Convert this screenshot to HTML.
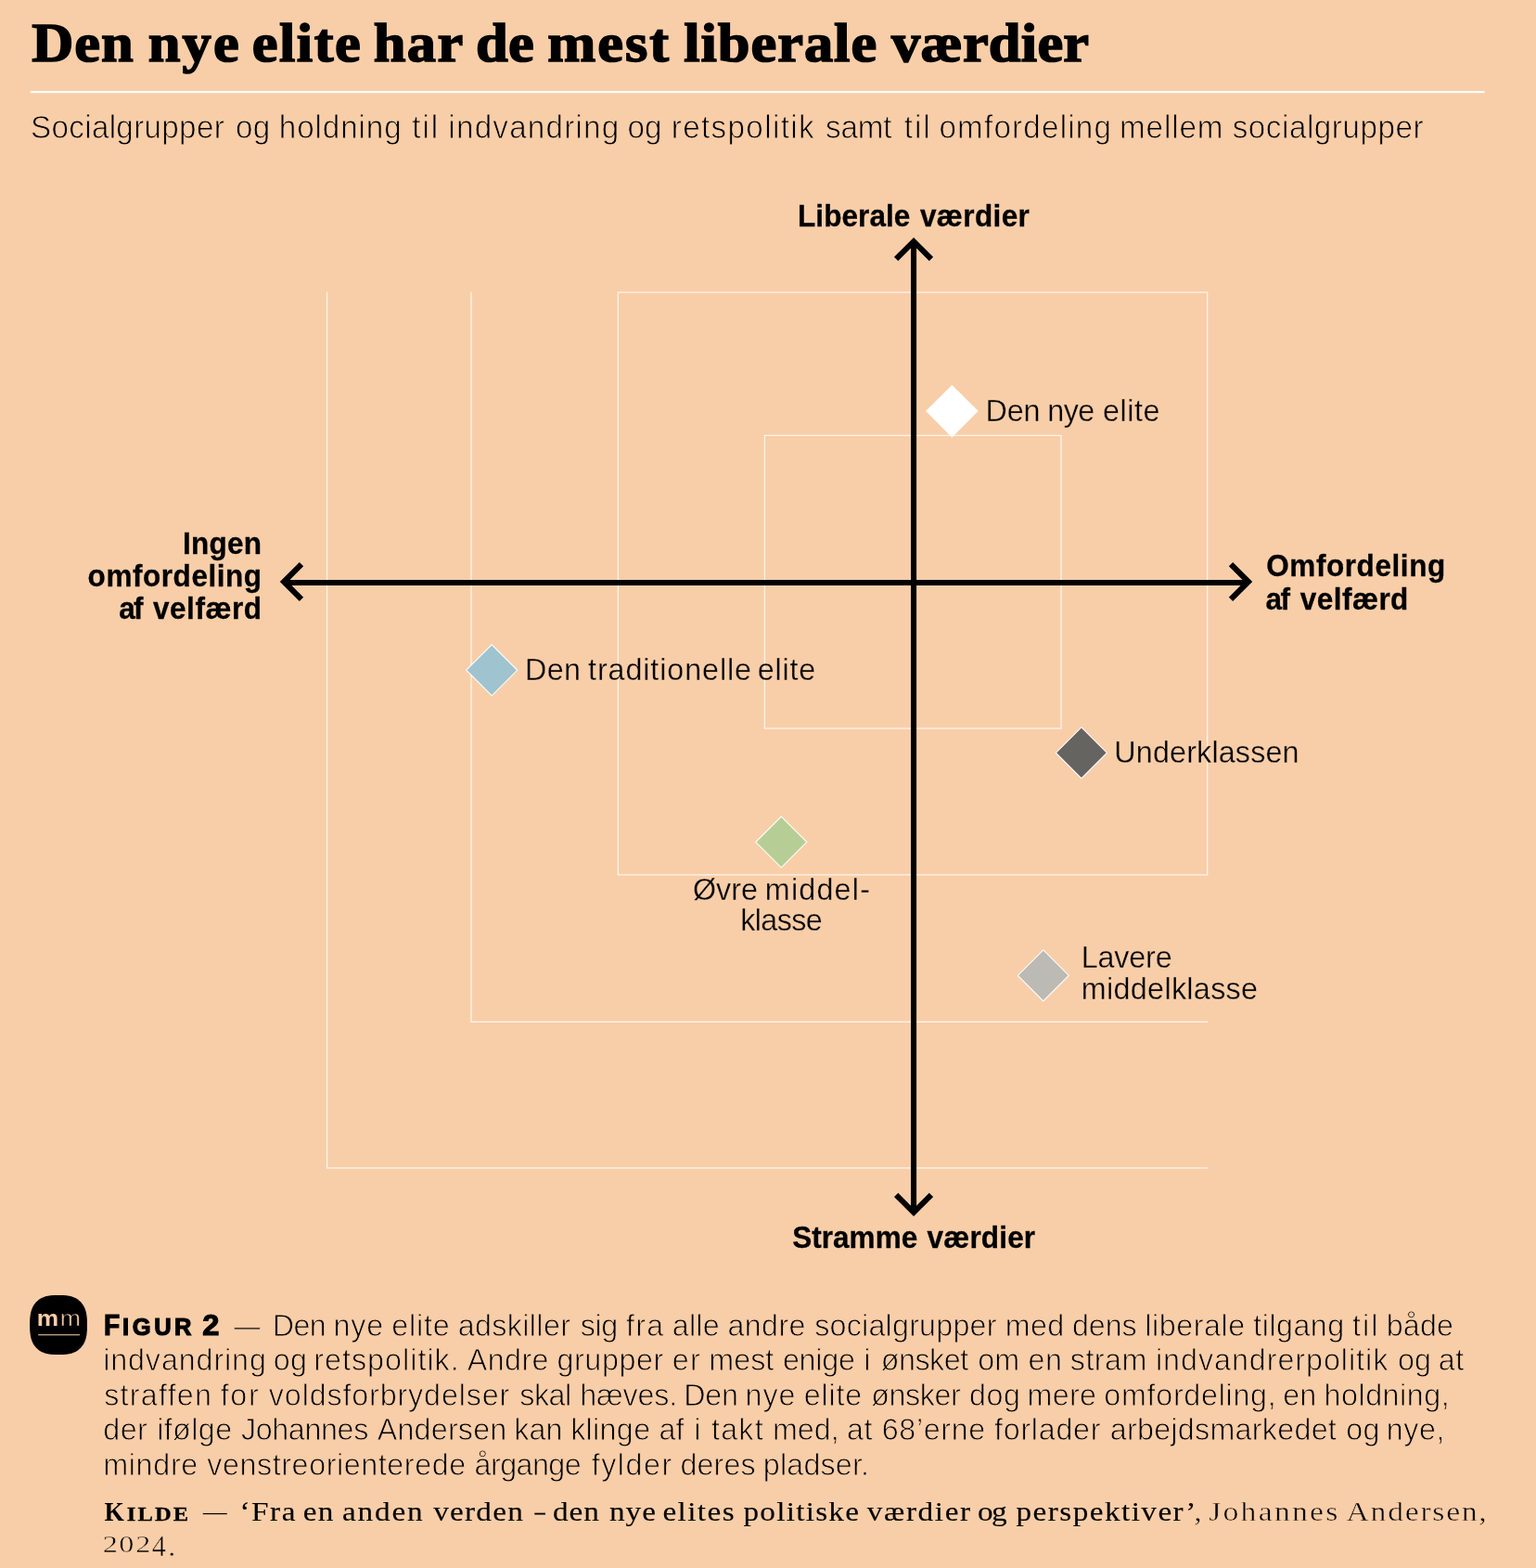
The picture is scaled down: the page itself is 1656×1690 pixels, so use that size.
<!DOCTYPE html>
<html lang="da">
<head>
<meta charset="utf-8">
<title>Den nye elite har de mest liberale værdier</title>
<style>
html,body{margin:0;padding:0;background:#f8cea8;}
body{width:1656px;height:1690px;overflow:hidden;position:relative;}
svg{position:absolute;left:0;top:0;display:block;}
text{white-space:pre;stroke-linejoin:round;}
.title,.ax,.fig,.figsc{stroke-linejoin:miter;stroke-miterlimit:2.5;}
.title{font-family:"Liberation Serif","DejaVu Serif",serif;font-weight:700;font-size:59.5px;fill:#000;stroke:#000;stroke-width:1.6px;}
.sub{font-family:"Liberation Sans","DejaVu Sans",sans-serif;font-weight:400;font-size:35.0px;fill:#000;stroke:#f8cea8;stroke-width:0.85px;}
.ax{font-family:"Liberation Sans","DejaVu Sans",sans-serif;font-weight:700;font-size:33.2px;fill:#000;stroke:#000;stroke-width:0.3px;}
.pt{font-family:"Liberation Sans","DejaVu Sans",sans-serif;font-weight:400;font-size:34.0px;fill:#000;stroke:#f8cea8;stroke-width:0.35px;}
.cap{font-family:"Liberation Sans","DejaVu Sans",sans-serif;font-weight:400;font-size:34.0px;fill:#000;stroke:#f8cea8;stroke-width:0.9px;}
.fig{font-family:"Liberation Sans","DejaVu Sans",sans-serif;font-weight:700;font-size:31.5px;fill:#000;stroke:#000;stroke-width:1.2px;}
.figsc{font-family:"Liberation Sans","DejaVu Sans",sans-serif;font-weight:700;font-size:25.5px;fill:#000;stroke:#000;stroke-width:1.2px;}
.srcb{font-family:"Liberation Serif","DejaVu Serif",serif;font-weight:400;font-size:29.2px;fill:#000;stroke:#000;stroke-width:0.12px;}
.srcr{font-family:"Liberation Serif","DejaVu Serif",serif;font-weight:400;font-size:29.6px;fill:#000;stroke:#f8cea8;stroke-width:0.5px;}
.osf{font-family:"Liberation Serif","DejaVu Serif",serif;font-weight:400;font-size:26.0px;fill:#000;stroke:#f8cea8;stroke-width:0.5px;}
.osf4{font-family:"Liberation Serif","DejaVu Serif",serif;font-weight:400;font-size:31.5px;fill:#000;stroke:#f8cea8;stroke-width:0.5px;}
.kil{font-family:"Liberation Serif","DejaVu Serif",serif;font-weight:700;font-size:30.5px;fill:#000;}
.kilsc{font-family:"Liberation Serif","DejaVu Serif",serif;font-weight:700;font-size:21.5px;fill:#000;stroke:#000;stroke-width:0.3px;}
.mmb{font-family:"Liberation Sans","DejaVu Sans",sans-serif;font-weight:700;font-size:23.6px;fill:#f8cea8;}
.mml{font-family:"Liberation Sans","DejaVu Sans",sans-serif;font-weight:400;font-size:23.6px;fill:#f0c6a0;stroke:#000;stroke-width:0.5px;}
</style>
</head>
<body>
<svg width="1656" height="1690" viewBox="0 0 1656 1690">
<rect x="0" y="0" width="1656" height="1690" fill="#f8cea8"/>

<g id="header">
<text id="title" y="66" transform="scale(1.05,1)"><tspan class="title" x="32.62" letter-spacing="0.93">Den</tspan> <tspan class="title" x="152.14" letter-spacing="2.01">nye</tspan> <tspan class="title" x="258.76" letter-spacing="1.43">elite</tspan> <tspan class="title" x="383.57" letter-spacing="1.27">har</tspan> <tspan class="title" x="488.48" letter-spacing="0.29">de</tspan> <tspan class="title" x="562.14" letter-spacing="1.86">mest</tspan> <tspan class="title" x="702.14" letter-spacing="0.91">liberale</tspan> <tspan class="title" x="915.33" letter-spacing="0.22">værdier</tspan></text>
<rect x="32.7" y="98.1" width="1567.8" height="2.1" fill="#fff"/>
<text id="subtitle" y="149" transform="scale(0.95,1)"><tspan class="sub" x="34.76" letter-spacing="0.32">Socialgrupper</tspan> <tspan class="sub" x="267.39" letter-spacing="0.22">og</tspan> <tspan class="sub" x="316.61" letter-spacing="0.93">holdning</tspan> <tspan class="sub" x="467.66" letter-spacing="2.07">til</tspan> <tspan class="sub" x="508.82" letter-spacing="1.26">indvandring</tspan> <tspan class="sub" x="712.03" letter-spacing="0.22">og</tspan> <tspan class="sub" x="761.87" letter-spacing="1.41">retspolitik</tspan> <tspan class="sub" x="936.92" letter-spacing="-0.23">samt</tspan> <tspan class="sub" x="1026.08" letter-spacing="2.01">til</tspan> <tspan class="sub" x="1065.71" letter-spacing="1.25">omfordeling</tspan> <tspan class="sub" x="1270.61" letter-spacing="0.89">mellem</tspan> <tspan class="sub" x="1398.61" letter-spacing="0.56">socialgrupper</tspan></text>
</g>

<g id="grid" fill="none" stroke="#fff" stroke-opacity="0.8" stroke-width="1.25">
<path d="M352.55 315V1258.9H1302"/>
<path d="M508 315V1101.4H1302"/>
<path d="M666.4 315.2H1301.7V942.9H666.4Z"/>
<path d="M824.4 469.3H1144V785.2H824.4Z"/>
</g>

<g id="axes" fill="none" stroke="#000" stroke-width="6.1" stroke-linejoin="miter" stroke-miterlimit="10">
<path d="M985.05 261.2V1305.8"/>
<path d="M307.1 628.05H1344.9"/>
<path d="M966.15 279.1L985.05 260.2L1003.95 279.1"/>
<path d="M966.15 1287.9L985.05 1306.8L1003.95 1287.9"/>
<path d="M325 608.1L306.1 627L325 645.9"/>
<path d="M1327 608.1L1345.9 627L1327 645.9"/>
</g>

<g id="points" stroke="#fff" stroke-width="1.05" stroke-linejoin="miter">
<path d="M1026.4 415.5L1054 443.1L1026.4 470.7L998.8 443.1Z" fill="#ffffff"/>
<path d="M530.2 694.8L557.7 722.3L530.2 749.8L502.7 722.3Z" fill="#a0c3d0"/>
<path d="M1165.9 783.9L1193.4 811.4L1165.9 838.9L1138.4 811.4Z" fill="#666461"/>
<path d="M842.3 880.1L869.8 907.6L842.3 935.1L814.8 907.6Z" fill="#b6ce96"/>
<path d="M1124.8 1023.9L1152.3 1051.4L1124.8 1078.9L1097.3 1051.4Z" fill="#bcbab5"/>
</g>

<g id="axis-labels">
<text id="ax-top" y="243.95" transform="scale(0.95,1)"><tspan class="ax" x="905.32" letter-spacing="0.05">Liberale</tspan> <tspan class="ax" x="1044.16" letter-spacing="0.38">værdier</tspan></text>
<text id="ax-bottom" y="1345.45" transform="scale(0.95,1)"><tspan class="ax" x="899.21">Stramme</tspan> <tspan class="ax" x="1052.16" letter-spacing="0.15">værdier</tspan></text>
<text id="ax-left1" y="596.55" transform="scale(0.95,1)"><tspan class="ax" x="207.32" letter-spacing="0.27">Ingen</tspan></text>
<text id="ax-left2" y="631.85" transform="scale(0.95,1)"><tspan class="ax" x="99.58" letter-spacing="0.56">omfordeling</tspan></text>
<text id="ax-left3" y="667.25" transform="scale(0.95,1)"><tspan class="ax" x="134.88" letter-spacing="-1.68">af</tspan> <tspan class="ax" x="173.63" letter-spacing="0.56">velfærd</tspan></text>
<text id="ax-right1" y="621.45" transform="scale(0.95,1)"><tspan class="ax" x="1437.05" letter-spacing="0.59">Omfordeling</tspan></text>
<text id="ax-right2" y="657.05" transform="scale(0.95,1)"><tspan class="ax" x="1436.4" letter-spacing="-1.68">af</tspan> <tspan class="ax" x="1475.63" letter-spacing="0.46">velfærd</tspan></text>
</g>

<g id="point-labels">
<text id="pt1" y="453.8" transform="scale(0.95,1)"><tspan class="pt" x="1118.45" letter-spacing="-0.15">Den</tspan> <tspan class="pt" x="1188.66" letter-spacing="-0.51">nye</tspan> <tspan class="pt" x="1251.55" letter-spacing="0.58">elite</tspan></text>
<text id="pt2" y="732.9" transform="scale(0.95,1)"><tspan class="pt" x="595.71" letter-spacing="0.43">Den</tspan> <tspan class="pt" x="667.39" letter-spacing="0.95">traditionelle</tspan> <tspan class="pt" x="859.87" letter-spacing="0.82">elite</tspan></text>
<text id="pt3" y="822.2" transform="scale(0.95,1)"><tspan class="pt" x="1264.55" letter-spacing="0.17">Underklassen</tspan></text>
<text id="pt4a" y="969.6" transform="scale(0.95,1)"><tspan class="pt" x="786.29" letter-spacing="0.02">Øvre</tspan> <tspan class="pt" x="868.24" letter-spacing="1.26">middel-</tspan></text>
<text id="pt4b" y="1002.6" transform="scale(0.95,1)"><tspan class="pt" x="840.24" letter-spacing="-0.62">klasse</tspan></text>
<text id="pt5a" y="1043.4" transform="scale(0.95,1)"><tspan class="pt" x="1227.18" letter-spacing="-0.2">Lavere</tspan></text>
<text id="pt5b" y="1076.6" transform="scale(0.95,1)"><tspan class="pt" x="1227.18" letter-spacing="0.34">middelklasse</tspan></text>
</g>

<g id="caption">
<path d="M93.9 1428.0L93.9 1433.3L93.6 1436.8L93.2 1439.8L92.6 1442.5L91.8 1445.0L90.8 1447.2L89.7 1449.3L88.4 1451.1L87.0 1452.8L85.3 1454.3L83.5 1455.7L81.5 1456.9L79.4 1457.8L77.0 1458.7L74.4 1459.3L71.5 1459.7L68.1 1460.0L63.1 1460.1L58.0 1460.0L54.6 1459.7L51.7 1459.3L49.1 1458.7L46.7 1457.8L44.6 1456.9L42.6 1455.7L40.8 1454.3L39.1 1452.8L37.7 1451.1L36.4 1449.3L35.3 1447.2L34.3 1445.0L33.5 1442.5L32.9 1439.8L32.5 1436.8L32.2 1433.3L32.1 1428.0L32.2 1422.7L32.5 1419.2L32.9 1416.2L33.5 1413.5L34.3 1411.0L35.3 1408.8L36.4 1406.7L37.7 1404.9L39.1 1403.2L40.8 1401.7L42.6 1400.3L44.6 1399.1L46.7 1398.2L49.1 1397.3L51.7 1396.7L54.6 1396.3L58.0 1396.0L63.0 1395.9L68.1 1396.0L71.5 1396.3L74.4 1396.7L77.0 1397.3L79.4 1398.2L81.5 1399.1L83.5 1400.3L85.3 1401.7L87.0 1403.2L88.4 1404.9L89.7 1406.7L90.8 1408.8L91.8 1411.0L92.6 1413.5L93.2 1416.2L93.6 1419.2L93.9 1422.7Z" fill="#000"/>
<text id="logo-mm" y="1428.9" transform="scale(1.12,1)"><tspan class="mmb" x="35.52" textLength="20.9" lengthAdjust="spacingAndGlyphs">m</tspan><tspan class="mml" x="57.78" textLength="19.89" lengthAdjust="spacingAndGlyphs">m</tspan></text>
<rect x="41.2" y="1438.1" width="44.8" height="1.2" fill="#d9b390"/>
<text id="cap1" y="1439"><tspan class="fig" x="111.91" textLength="17.2" lengthAdjust="spacingAndGlyphs">F</tspan><tspan class="figsc" x="132.1" letter-spacing="3.56">IGUR</tspan> <tspan class="fig" x="218.36" textLength="18.18" lengthAdjust="spacingAndGlyphs">2</tspan></text>
<text id="cap1-2" y="1439.6" transform="scale(0.95,1)"><tspan class="cap" x="265.42" textLength="29.58" lengthAdjust="spacingAndGlyphs">—</tspan> <tspan class="cap" x="309.21" letter-spacing="-0.71">Den</tspan> <tspan class="cap" x="378.37" letter-spacing="0.83">nye</tspan> <tspan class="cap" x="444.42" letter-spacing="0.88">elite</tspan> <tspan class="cap" x="519.68" letter-spacing="0.37">adskiller</tspan> <tspan class="cap" x="658.58" letter-spacing="-0.36">sig</tspan> <tspan class="cap" x="710.47" letter-spacing="1.33">fra</tspan> <tspan class="cap" x="762.84" letter-spacing="0.29">alle</tspan> <tspan class="cap" x="825.89" letter-spacing="0.32">andre</tspan> <tspan class="cap" x="924.47" letter-spacing="0.21">socialgrupper</tspan> <tspan class="cap" x="1140.68" letter-spacing="0.41">med</tspan> <tspan class="cap" x="1216.95" letter-spacing="-0.19">dens</tspan> <tspan class="cap" x="1299.32" letter-spacing="0.55">liberale</tspan> <tspan class="cap" x="1422.47" letter-spacing="0.48">tilgang</tspan> <tspan class="cap" x="1534.79" letter-spacing="2.08">til</tspan> <tspan class="cap" x="1573.42" letter-spacing="0.14">både</tspan></text>
<text id="cap2" y="1477.2" transform="scale(0.95,1)"><tspan class="cap" x="117" letter-spacing="0.92">indvandring</tspan> <tspan class="cap" x="310.21" letter-spacing="0.46">og</tspan> <tspan class="cap" x="356.05" letter-spacing="1.06">retspolitik.</tspan> <tspan class="cap" x="530.37" letter-spacing="0.39">Andre</tspan> <tspan class="cap" x="632.11" letter-spacing="0.6">grupper</tspan> <tspan class="cap" x="762.84" letter-spacing="1.41">er</tspan> <tspan class="cap" x="804.58" letter-spacing="-0.01">mest</tspan> <tspan class="cap" x="888.32" letter-spacing="-0.27">enige</tspan> <tspan class="cap" x="980.32">i</tspan> <tspan class="cap" x="999.74" letter-spacing="-0.54">ønsket</tspan> <tspan class="cap" x="1109.79" letter-spacing="0.04">om</tspan> <tspan class="cap" x="1166.74" letter-spacing="0.78">en</tspan> <tspan class="cap" x="1214.47" letter-spacing="0.53">stram</tspan> <tspan class="cap" x="1311.53" letter-spacing="1">indvandrerpolitik</tspan> <tspan class="cap" x="1586.21" letter-spacing="0.04">og</tspan> <tspan class="cap" x="1632.42" letter-spacing="0.41">at</tspan></text>
<text id="cap3" y="1514.7" transform="scale(0.95,1)"><tspan class="cap" x="118.05" letter-spacing="1.32">straffen</tspan> <tspan class="cap" x="250.26" letter-spacing="1.74">for</tspan> <tspan class="cap" x="305.11" letter-spacing="0.89">voldsforbrydelser</tspan> <tspan class="cap" x="589.84" letter-spacing="-0.58">skal</tspan> <tspan class="cap" x="658.16" letter-spacing="-0.19">hæves.</tspan> <tspan class="cap" x="776.05" letter-spacing="-0.28">Den</tspan> <tspan class="cap" x="845.84" letter-spacing="0.94">nye</tspan> <tspan class="cap" x="912.32" letter-spacing="0.88">elite</tspan> <tspan class="cap" x="988.58" letter-spacing="-0.46">ønsker</tspan> <tspan class="cap" x="1100" letter-spacing="0.51">dog</tspan> <tspan class="cap" x="1165.74" letter-spacing="0.34">mere</tspan> <tspan class="cap" x="1252.95" letter-spacing="0.74">omfordeling,</tspan> <tspan class="cap" x="1456" letter-spacing="0.14">en</tspan> <tspan class="cap" x="1502.68" letter-spacing="0.53">holdning,</tspan></text>
<text id="cap4" y="1552.2" transform="scale(0.95,1)"><tspan class="cap" x="117.05" letter-spacing="0.51">der</tspan> <tspan class="cap" x="178.05" letter-spacing="0.44">ifølge</tspan> <tspan class="cap" x="273.63" letter-spacing="-0.41">Johannes</tspan> <tspan class="cap" x="428.16" letter-spacing="0.19">Andersen</tspan> <tspan class="cap" x="583.42" letter-spacing="0.07">kan</tspan> <tspan class="cap" x="647.53" letter-spacing="0.33">klinge</tspan> <tspan class="cap" x="747.79" letter-spacing="0.09">af</tspan> <tspan class="cap" x="787.74">i</tspan> <tspan class="cap" x="807.42" letter-spacing="1.23">takt</tspan> <tspan class="cap" x="876.79" letter-spacing="-0.03">med,</tspan> <tspan class="cap" x="961.16" letter-spacing="0.41">at</tspan> <tspan class="cap" x="1000.84" letter-spacing="0.66">68’erne</tspan> <tspan class="cap" x="1128.47" letter-spacing="0.75">forlader</tspan> <tspan class="cap" x="1259.68" letter-spacing="0.27">arbejdsmarkedet</tspan> <tspan class="cap" x="1527.68" letter-spacing="0.14">og</tspan> <tspan class="cap" x="1573.42" letter-spacing="0.59">nye,</tspan></text>
<text id="cap5" y="1589.7" transform="scale(0.95,1)"><tspan class="cap" x="117" letter-spacing="0.72">mindre</tspan> <tspan class="cap" x="235" letter-spacing="0.6">venstreorienterede</tspan> <tspan class="cap" x="538.53" letter-spacing="-0.62">årgange</tspan> <tspan class="cap" x="671.21" letter-spacing="1.63">fylder</tspan> <tspan class="cap" x="772" letter-spacing="0.11">deres</tspan> <tspan class="cap" x="866.16" letter-spacing="0.16">pladser.</tspan></text>
<text id="src1" y="1638.94" transform="scale(1.14,1)"><tspan class="kil" x="98.77" textLength="18.73" lengthAdjust="spacingAndGlyphs" y="1639">K</tspan><tspan class="kilsc" x="119.96" y="1638.85" letter-spacing="1.89">ILDE</tspan> <tspan class="srcr" x="191.87" textLength="22.86" lengthAdjust="spacingAndGlyphs" y="1639">—</tspan> <tspan class="srcb" x="226.65" letter-spacing="1.37">‘Fra</tspan> <tspan class="srcb" x="286.68" letter-spacing="1.01">en</tspan> <tspan class="srcb" x="323.61" letter-spacing="1.6">anden</tspan> <tspan class="srcb" x="409.79" letter-spacing="1.07">verden</tspan> <tspan class="srcb" x="505.64" textLength="9.91" lengthAdjust="spacingAndGlyphs">–</tspan> <tspan class="srcb" x="522.91" letter-spacing="0.75">den</tspan> <tspan class="srcb" x="576.28" letter-spacing="0.84">nye</tspan> <tspan class="srcb" x="626.68" letter-spacing="1.23">elites</tspan> <tspan class="srcb" x="703.04" letter-spacing="1.09">politiske</tspan> <tspan class="srcb" x="820.05" letter-spacing="1.41">værdier</tspan> <tspan class="srcb" x="924.48" letter-spacing="-1.4">og</tspan> <tspan class="srcb" x="961.02" letter-spacing="1.25">perspektiver’</tspan><tspan class="srcr" x="1129.09" y="1639">,</tspan> <tspan class="srcr" x="1143.11" y="1639" letter-spacing="1.96">Johannes</tspan> <tspan class="srcr" x="1273.29" y="1639" letter-spacing="1.49">Andersen,</tspan></text>
<text id="src2" y="1673.4" transform="scale(1.14,1)"><tspan class="osf" x="97.11" textLength="14.2" lengthAdjust="spacingAndGlyphs">2</tspan><tspan class="osf" x="112.59" textLength="14.12" lengthAdjust="spacingAndGlyphs">0</tspan><tspan class="osf" x="128.35" textLength="14.1" lengthAdjust="spacingAndGlyphs">2</tspan><tspan class="osf4" x="143.73" textLength="13.3" lengthAdjust="spacingAndGlyphs" y="1677">4</tspan><tspan class="srcr" x="158.74">.</tspan></text>
</g>
</svg>
</body>
</html>
